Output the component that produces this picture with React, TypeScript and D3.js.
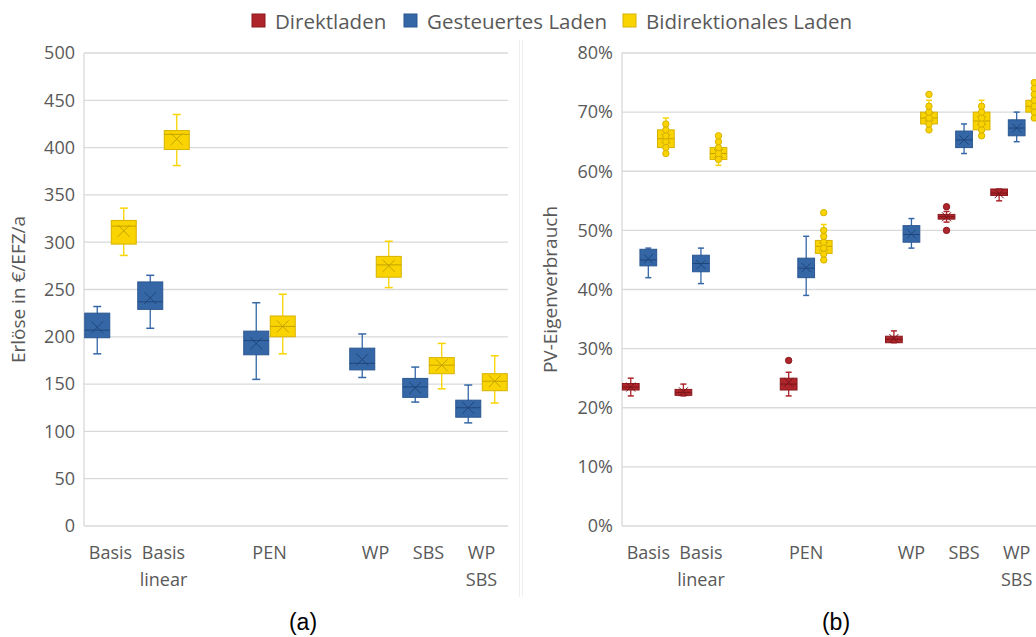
import React from "react";
import * as d3 from "d3";

type Box = {
  min: number;
  q1: number;
  median: number;
  q3: number;
  max: number;
  mean: number;
  pts?: number[];
  out?: number[];
} | null;

// categories (blank slots are empty gaps on the axis)
const categories = ["Basis", "Basis linear", "", "PEN", "", "WP", "SBS", "WP SBS"];
const seriesNames = ["Direktladen", "Gesteuertes Laden", "Bidirektionales Laden"];

// (a) Erlöse in €/EFZ/a
const erloeseGesteuert: Box[] = [
  { min: 182, q1: 199, median: 207, q3: 225, max: 232, mean: 210 },
  { min: 209, q1: 229, median: 237, q3: 258, max: 265, mean: 241 },
  null,
  { min: 155, q1: 181, median: 196, q3: 206, max: 236, mean: 193 },
  null,
  { min: 157, q1: 165, median: 172, q3: 188, max: 203, mean: 176 },
  { min: 131, q1: 136, median: 147, q3: 156, max: 168, mean: 146 },
  { min: 109, q1: 115, median: 125, q3: 133, max: 149, mean: 125 },
];
const erloeseBidirektional: Box[] = [
  { min: 286, q1: 298, median: 317, q3: 323, max: 336, mean: 312 },
  { min: 381, q1: 398, median: 414, q3: 418, max: 435, mean: 409 },
  null,
  { min: 182, q1: 200, median: 211, q3: 222, max: 245, mean: 211 },
  null,
  { min: 252, q1: 263, median: 276, q3: 285, max: 301, mean: 275 },
  { min: 145, q1: 161, median: 170, q3: 178, max: 193, mean: 170 },
  { min: 130, q1: 143, median: 153, q3: 161, max: 180, mean: 153 },
];
const erloeseTicks = [0, 50, 100, 150, 200, 250, 300, 350, 400, 450, 500];

// (b) PV-Eigenverbrauch in %
const pvDirekt: Box[] = [
  { min: 22, q1: 23, median: 23.5, q3: 24.1, max: 25, mean: 23.5 },
  { min: 22, q1: 22.1, median: 22.6, q3: 23.1, max: 24, mean: 22.7 },
  null,
  { min: 22, q1: 23, median: 24, q3: 25, max: 26, mean: 24.3, out: [28] },
  null,
  { min: 31, q1: 31, median: 31.6, q3: 32.1, max: 33, mean: 31.7 },
  { min: 51.4, q1: 51.9, median: 52.3, q3: 52.7, max: 53.2, mean: 52.3, out: [50, 54] },
  { min: 55, q1: 55.9, median: 56.3, q3: 57, max: 57, mean: 56.2 },
];
const pvGesteuert: Box[] = [
  { min: 42, q1: 44, median: 45, q3: 46.8, max: 47, mean: 45.2 },
  { min: 41, q1: 43, median: 44.4, q3: 45.8, max: 47, mean: 44.2 },
  null,
  { min: 39, q1: 42, median: 43.6, q3: 45.3, max: 49, mean: 43.7 },
  null,
  { min: 47, q1: 48, median: 49.3, q3: 50.8, max: 52, mean: 49.4 },
  { min: 63, q1: 64, median: 65.3, q3: 66.8, max: 68, mean: 65.3 },
  { min: 65, q1: 66, median: 67.3, q3: 68.7, max: 70, mean: 67.3 },
];
const pvBidirektional: Box[] = [
  { min: 63, q1: 64, median: 65.5, q3: 67, max: 69, mean: 65.5, pts: [63, 64, 65, 66, 67, 68] },
  { min: 61, q1: 62, median: 63, q3: 64, max: 66, mean: 63, pts: [62, 63, 64, 65, 66] },
  null,
  { min: 45, q1: 46.1, median: 47.3, q3: 48.3, max: 51, mean: 47.3, pts: [45, 46, 47, 48, 49, 50], out: [53] },
  null,
  { min: 67, q1: 68, median: 69, q3: 70, max: 72, mean: 69.2, pts: [67, 68, 69, 70, 71], out: [73] },
  { min: 66, q1: 67, median: 68.5, q3: 70, max: 72, mean: 68.6, pts: [66, 67, 68, 69, 70, 71] },
  { min: 69, q1: 70, median: 71, q3: 72, max: 75, mean: 71.3, pts: [69, 70, 71, 72, 73, 74, 75] },
];
const pvTicks = [0, 10, 20, 30, 40, 50, 60, 70, 80];

const colors = [
  { fill: "#AE252B", stroke: "#8A1A1F", dark: "#7A1519" },
  { fill: "#3567A7", stroke: "#2A5690", dark: "#1F467A" },
  { fill: "#FAD400", stroke: "#D6B200", dark: "#C4A300" },
];

const FONT = "'Open Sans', 'Noto Sans', sans-serif";
const TEXT = "#595959";
const GRID = "#d9d9d9";

function BoxMark({ cx, w, y, d, c, cap, xs, r }: any) {
  const half = w / 2;
  return (
    <g>
      <line x1={cx} x2={cx} y1={y(d.max)} y2={y(d.min)} stroke={c.fill} strokeWidth={1.3} />
      <line x1={cx - cap} x2={cx + cap} y1={y(d.max)} y2={y(d.max)} stroke={c.fill} strokeWidth={1.5} />
      <line x1={cx - cap} x2={cx + cap} y1={y(d.min)} y2={y(d.min)} stroke={c.fill} strokeWidth={1.5} />
      <rect
        x={cx - half}
        y={y(d.q3)}
        width={w}
        height={Math.max(1, y(d.q1) - y(d.q3))}
        fill={c.fill}
        stroke={c.stroke}
        strokeWidth={1}
      />
      <line x1={cx - half} x2={cx + half} y1={y(d.median)} y2={y(d.median)} stroke={c.dark} strokeWidth={1} />
      <path
        d={`M${cx - xs},${y(d.mean) - xs}L${cx + xs},${y(d.mean) + xs}M${cx - xs},${y(d.mean) + xs}L${cx + xs},${y(d.mean) - xs}`}
        stroke={c.dark}
        strokeWidth={1}
        fill="none"
      />
      {(d.pts || []).map((p: number, i: number) => (
        <circle key={"p" + i} cx={cx} cy={y(p)} r={r} fill={c.fill} stroke={c.stroke} strokeWidth={1} />
      ))}
      {(d.out || []).map((p: number, i: number) => (
        <circle key={"o" + i} cx={cx} cy={y(p)} r={r} fill={c.fill} stroke={c.stroke} strokeWidth={1} />
      ))}
    </g>
  );
}

function Panel({ x0, x1, y, ticks, fmt, series, seriesIdx, title, titleX, caption, capX, boxPad, cap, xs, r }: any) {
  const xScale = d3.scaleBand<number>().domain(d3.range(categories.length)).range([x0, x1]);
  const inner = d3.scaleBand<number>().domain(seriesIdx).range([0, xScale.bandwidth()]);
  const bw = inner.bandwidth() - boxPad;
  const [yb, yt] = y.range();
  return (
    <g>
      {ticks.map((t: number) => (
        <g key={t}>
          <line x1={x0} x2={x1} y1={y(t)} y2={y(t)} stroke={GRID} strokeWidth={1.3} />
          <text x={x0 - 9} y={y(t)} dy="0.35em" textAnchor="end" fontSize={18} fill={TEXT} fontFamily={FONT}>
            {fmt(t)}
          </text>
        </g>
      ))}
      <line x1={x0} x2={x0} y1={yt} y2={yb} stroke={GRID} strokeWidth={1.3} />
      {categories.map((cat, i) => {
        const cx = (xScale(i) ?? 0) + xScale.bandwidth() / 2;
        return cat.split(" ").map((ln, j) => (
          <text key={i + "-" + j} x={cx} y={559 + j * 27} textAnchor="middle" fontSize={18} fill={TEXT} fontFamily={FONT}>
            {ln}
          </text>
        ));
      })}
      {series.map((s: Box[], k: number) =>
        s.map((d, i) =>
          d ? (
            <BoxMark
              key={k + "-" + i}
              cx={(xScale(i) ?? 0) + (inner(seriesIdx[k]) ?? 0) + inner.bandwidth() / 2}
              w={bw}
              y={y}
              d={d}
              c={colors[seriesIdx[k]]}
              cap={cap}
              xs={xs}
              r={r}
            />
          ) : null
        )
      )}
      <text
        transform={`translate(${titleX},${(yt + yb) / 2}) rotate(-90)`}
        textAnchor="middle"
        fontSize={19}
        fill={TEXT}
        fontFamily={FONT}
      >
        {title}
      </text>
      <text x={capX} y={630} textAnchor="middle" fontSize={23} fill="#000" fontFamily="'Liberation Sans', Arial, sans-serif">
        {caption}
      </text>
    </g>
  );
}

export default function App() {
  const yLeft = d3.scaleLinear().domain([0, 500]).range([526, 53]);
  const yRight = d3.scaleLinear().domain([0, 80]).range([526, 53]);
  const legendX = [252, 404, 623];
  return (
    <svg width={1036} height={637} style={{ position: "absolute", left: 0, top: 0, background: "#fff" }}>
      <rect width={1036} height={637} fill="#fff" />
      <line x1={519.5} x2={519.5} y1={40} y2={597} stroke="#eeeeee" />
      <line x1={522.5} x2={522.5} y1={40} y2={597} stroke="#eeeeee" />
      <Panel
        x0={84}
        x1={508}
        y={yLeft}
        ticks={erloeseTicks}
        fmt={(t: number) => String(t)}
        series={[erloeseGesteuert, erloeseBidirektional]}
        seriesIdx={[1, 2]}
        title="Erlöse in €/EFZ/a"
        titleX={25}
        caption="(a)"
        capX={303}
        boxPad={1.5}
        cap={4}
        xs={6}
        r={3}
      />
      <Panel
        x0={622}
        x1={1043}
        y={yRight}
        ticks={pvTicks}
        fmt={(t: number) => `${t}%`}
        series={[pvDirekt, pvGesteuert, pvBidirektional]}
        seriesIdx={[0, 1, 2]}
        title="PV-Eigenverbrauch"
        titleX={557}
        caption="(b)"
        capX={836}
        boxPad={0.8}
        cap={3}
        xs={4.5}
        r={3.2}
      />
      {seriesNames.map((n, i) => (
        <g key={n}>
          <rect x={legendX[i]} y={14} width={13} height={13} fill={colors[i].fill} stroke={colors[i].stroke} />
          <text x={legendX[i] + 23} y={29} fontSize={20.5} fill={TEXT} fontFamily={FONT}>
            {n}
          </text>
        </g>
      ))}
    </svg>
  );
}
